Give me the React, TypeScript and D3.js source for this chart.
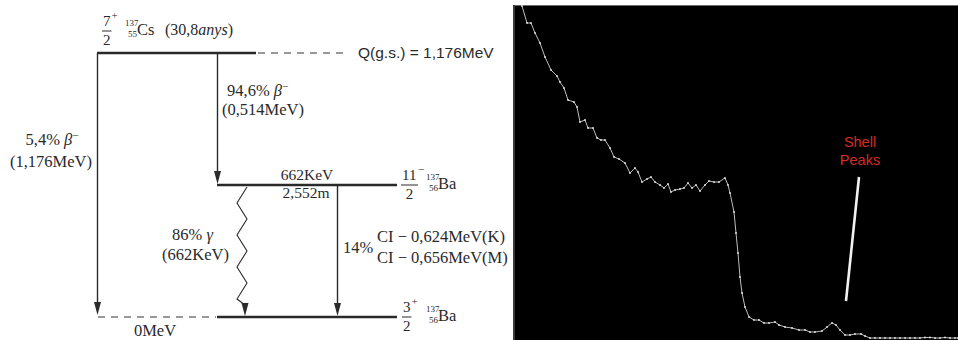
import * as d3 from "d3";

// decay scheme: level ids top -> bottom
const levelIds = ["cs137", "ba137m", "ba137"];
const levelSpinNum = ["7", "11", "3"];
const levelParity = ["+", "−", "+"];
const levelMass = ["137", "137", "137"];
const levelZ = ["55", "56", "56"];
const levelElem = ["Cs", "Ba", "Ba"];

// spectrum (channel, counts)
const channels = [
  4, 9, 13, 17, 22, 27, 33, 39, 42, 46, 50, 56, 59, 62, 67, 70, 75, 79, 83, 87,
  92, 96, 101, 107, 112, 117, 120, 124, 129, 133, 137, 142, 146, 150, 153, 157,
  162, 166, 170, 174, 178, 182, 187, 191, 196, 201, 207, 210, 212, 216, 218, 220,
  222, 224, 227, 231, 236, 241, 246, 251, 257, 261, 267, 274, 281, 287, 292, 297,
  304, 309, 314, 318, 322, 327, 332, 337, 343, 347, 352, 357, 362, 367, 372, 377,
  382, 387, 392, 397, 402, 407, 412, 417, 422, 427, 432, 437, 440,
];
const counts = [
  334, 317, 317, 307, 297, 283, 270, 264, 258, 252, 240, 238, 233, 218, 220, 212,
  212, 202, 200, 200, 192, 183, 181, 177, 167, 172, 168, 158, 161, 163, 158, 155,
  152, 156, 148, 150, 151, 152, 157, 152, 155, 149, 155, 159, 158, 158, 162, 155,
  147, 128, 107, 87, 63, 47, 33, 23, 20, 20, 17, 17, 18, 15, 13, 12, 10, 10, 8, 8,
  9, 13, 17, 15, 10, 5, 5, 6, 6, 4, 2, 2, 2, 2, 2, 2, 2, 2, 2, 2, 2, 2.5, 2.5, 2,
  2, 2.5, 2, 2, 2,
];

const W = 958;
const H = 340;
const serif = "'Liberation Serif', 'Times New Roman', serif";
const ink = "#2a2a2a";

function Arrow({ x, y1, y2, w = 1.4 }: { x: number; y1: number; y2: number; w?: number }) {
  const head = 13;
  return (
    <g>
      <line x1={x} x2={x} y1={y1} y2={y2 - head + 2} stroke={ink} strokeWidth={w} />
      <path d={`M${x - 3.5},${y2 - head} L${x + 3.5},${y2 - head} L${x},${y2} Z`} fill={ink} />
    </g>
  );
}

function Spin({ x, y, num, parity }: { x: number; y: number; num: string; parity: string }) {
  const wNum = num.length * 7.5;
  return (
    <g fontFamily={serif} fill={ink}>
      <text x={x} y={y - 5} fontSize={15}>{num}</text>
      <text x={x + wNum + 1} y={y - 12} fontSize={11}>{parity}</text>
      <line x1={x - 1} x2={x + wNum + 1} y1={y} y2={y} stroke={ink} strokeWidth={1} />
      <text x={x + wNum / 2} y={y + 14} fontSize={15} textAnchor="middle">2</text>
    </g>
  );
}

function Nucleus({ x, y, mass, z, elem }: { x: number; y: number; mass: string; z: string; elem: string }) {
  return (
    <g fontFamily={serif} fill={ink}>
      <text x={x} y={y - 6} fontSize={9}>{mass}</text>
      <text x={x + 3} y={y + 5} fontSize={9}>{z}</text>
      <text x={x + 12} y={y + 3} fontSize={16.5}>{elem}</text>
    </g>
  );
}

function DecayScheme() {
  const y = d3.scalePoint<string>().domain(levelIds).range([53, 317]);
  const yTop = y("cs137")!;
  const yMid = y("ba137m")!;
  const yBot = y("ba137")!;

  // gamma zigzag
  const zig: [number, number][] = [];
  const nZig = 7;
  for (let i = 0; i <= nZig; i++) {
    const t = yMid + 2 + i * 16;
    zig.push([242 + (i % 2 === 0 ? 5 : -5), t]);
  }
  zig.push([245, yBot - 12]);
  const zigPath = d3.line()(zig)!;

  return (
    <g>
      {/* levels */}
      <line x1={97} x2={256} y1={yTop} y2={yTop} stroke={ink} strokeWidth={2.6} />
      <line x1={258} x2={348} y1={yTop} y2={yTop} stroke="#777" strokeWidth={1.3} strokeDasharray="7 6" />
      <line x1={217} x2={397} y1={yMid} y2={yMid} stroke={ink} strokeWidth={2.6} />
      <line x1={217} x2={397} y1={yBot} y2={yBot} stroke={ink} strokeWidth={2.6} />
      <line x1={98} x2={216} y1={yBot} y2={yBot} stroke="#777" strokeWidth={1.3} strokeDasharray="7 6" />

      {/* transitions */}
      <Arrow x={97.5} y1={yTop} y2={yBot - 2} />
      <Arrow x={217.5} y1={yTop} y2={yMid - 1} />
      <Arrow x={337.5} y1={yMid} y2={yBot - 1} />
      <path d={zigPath} fill="none" stroke={ink} strokeWidth={1.1} />
      <path d={`M${241.5},${yBot - 14} L${248.5},${yBot - 14} L${245},${yBot - 1} Z`} fill={ink} />

      {/* level labels */}
      <Spin x={103} y={31} num={levelSpinNum[0]} parity={levelParity[0]} />
      <Nucleus x={125} y={32} mass={levelMass[0]} z={levelZ[0]} elem={levelElem[0]} />
      <text x={165} y={35} fontFamily={serif} fontSize={16} fill={ink}>
        (30,8<tspan fontStyle="italic">anys</tspan>)
      </text>
      <text x={358} y={58} fontFamily="'Liberation Sans', Arial, sans-serif" fontSize={15.5} fill={ink}>
        Q(g.s.) = 1,176MeV
      </text>

      <Spin x={402} y={yMid} num={levelSpinNum[1]} parity={levelParity[1]} />
      <Nucleus x={426} y={yMid + 1} mass={levelMass[1]} z={levelZ[1]} elem={levelElem[1]} />
      <Spin x={403} y={yBot} num={levelSpinNum[2]} parity={levelParity[2]} />
      <Nucleus x={426} y={yBot + 1} mass={levelMass[2]} z={levelZ[2]} elem={levelElem[2]} />

      <g fontFamily={serif} fontSize={16.5} fill={ink}>
        <text x={52} y={145} textAnchor="middle">
          5,4% <tspan fontStyle="italic">β</tspan><tspan fontSize={11} dy={-6}>−</tspan>
        </text>
        <text x={51} y={167} textAnchor="middle">(1,176MeV)</text>
        <text x={227} y={96}>
          94,6% <tspan fontStyle="italic">β</tspan><tspan fontSize={11} dy={-6}>−</tspan>
        </text>
        <text x={222} y={115}>(0,514MeV)</text>
        <text x={307} y={180} textAnchor="middle" fontSize={15.5}>662KeV</text>
        <text x={306} y={198} textAnchor="middle" fontSize={15.5}>2,552m</text>
        <text x={213} y={240} textAnchor="end">
          86% <tspan fontStyle="italic">γ</tspan>
        </text>
        <text x={229} y={260} textAnchor="end">(662KeV)</text>
        <text x={343} y={253}>14%</text>
        <text x={377} y={242}>CI − 0,624MeV(K)</text>
        <text x={377} y={263}>CI − 0,656MeV(M)</text>
        <text x={155} y={336} textAnchor="middle">0MeV</text>
      </g>
    </g>
  );
}

function Spectrum() {
  const x = d3.scaleLinear().domain([0, 440]).range([518, 958]);
  const y = d3.scaleLinear().domain([0, 335]).range([340, 5]);
  const pts = channels.map((c, i) => [x(c), y(counts[i])] as [number, number]);
  const path = d3.line()(pts)!;
  return (
    <g>
      <rect x={513} y={5} width={W - 513} height={H - 5} fill="#000" />
      <line x1={513} x2={W} y1={5.5} y2={5.5} stroke="#6a6a6a" strokeWidth={1} />
      <line x1={514} x2={514} y1={5} y2={H} stroke="#3a3a3a" strokeWidth={2} />
      <path d={path} fill="none" stroke="#bdbdbd" strokeWidth={1} />
      {pts.map((p, i) => (
        <circle key={i} cx={p[0]} cy={p[1]} r={0.9} fill="#e8e8e8" />
      ))}
      <line x1={x(341)} y1={y(163)} x2={x(328)} y2={y(39)} stroke="#f2f2f2" strokeWidth={2.6} />
      <g
        fontFamily="'Liberation Sans Narrow', 'Arial Narrow', 'Liberation Sans', sans-serif"
        fontStretch="condensed"
        fontSize={14.5}
        fill="#d42c25"
        textAnchor="middle"
      >
        <text x={860} y={147}>Shell</text>
        <text x={860} y={165}>Peaks</text>
      </g>
    </g>
  );
}

export default function App() {
  return (
    <svg
      width={W}
      height={H}
      viewBox={`0 0 ${W} ${H}`}
      style={{ position: "absolute", left: 0, top: 0, background: "#fff" }}
    >
      <DecayScheme />
      <Spectrum />
    </svg>
  );
}
